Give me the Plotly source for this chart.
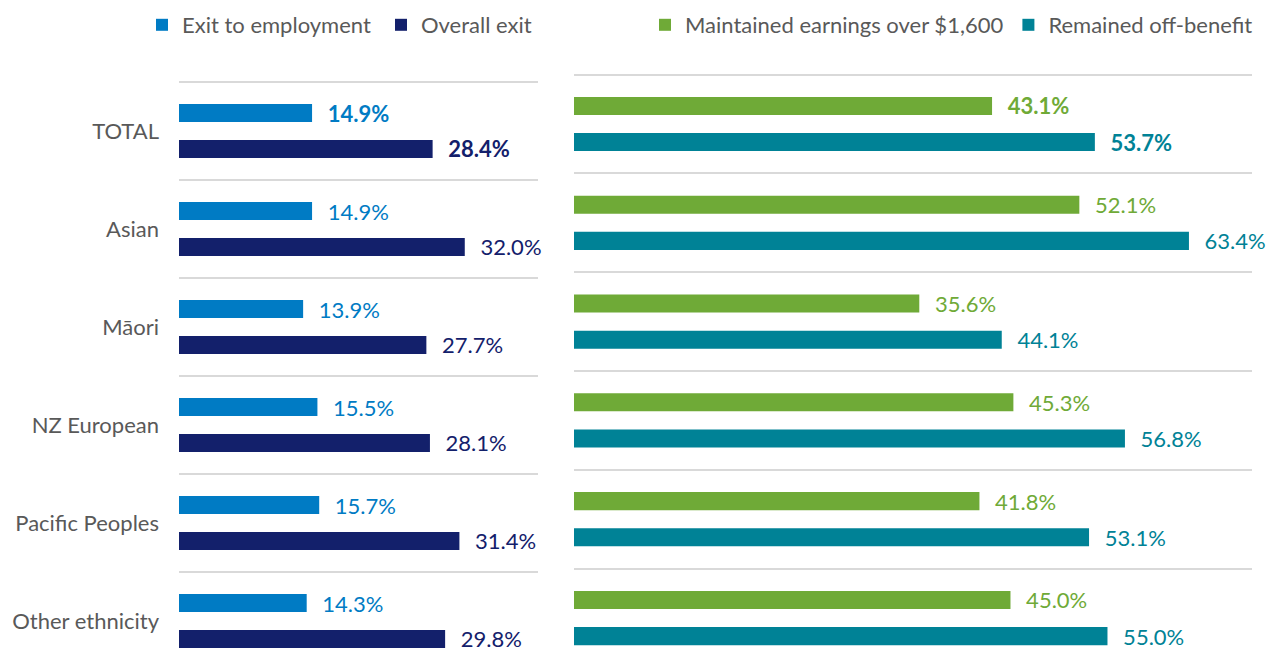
import plotly.graph_objects as go

categories = ["TOTAL", "Asian", "Māori", "NZ European", "Pacific Peoples", "Other ethnicity"]
exit_to_employment = [14.9, 14.9, 13.9, 15.5, 15.7, 14.3]
overall_exit = [28.4, 32.0, 27.7, 28.1, 31.4, 29.8]
maintained_earnings = [43.1, 52.1, 35.6, 45.3, 41.8, 45.0]
remained_off_benefit = [53.7, 63.4, 44.1, 56.8, 53.1, 55.0]

C_EMP = "#007BC4"
C_EXIT = "#13206B"
C_EARN = "#6FAA37"
C_OFF = "#008296"
GRAY = "#595959"
FONT = "Lato"
FS = 22
NB = "\u00a0\u00a0\u200a"


def labels(vals):
    out = []
    for i, v in enumerate(vals):
        s = f"{v:.1f}%"
        out.append(NB + (f"<b>{s}</b>" if i == 0 else s))
    return out


def bar(vals, name, color, xa, ya, leg):
    return go.Bar(
        y=categories, x=vals, name=name, orientation="h",
        marker=dict(color=color, line=dict(width=0)),
        text=labels(vals), textposition="outside", constraintext="none",
        cliponaxis=False, textfont=dict(color=color, size=FS, family=FONT),
        xaxis=xa, yaxis=ya, legend=leg, hoverinfo="x+y",
    )


fig = go.Figure()
fig.add_trace(bar(exit_to_employment, "Exit to employment", C_EMP, "x", "y", "legend"))
fig.add_trace(bar(overall_exit, "Overall exit", C_EXIT, "x", "y", "legend"))
fig.add_trace(bar(maintained_earnings, "Maintained earnings over $1,600", C_EARN, "x2", "y2", "legend2"))
fig.add_trace(bar(remained_off_benefit, "Remained off-benefit", C_OFF, "x2", "y2", "legend2"))

W, H = 1273, 661
grid = dict(showgrid=True, gridcolor="#D9D9D9", gridwidth=2, tickson="boundaries",
            ticks="", showline=False, zeroline=False, type="category")

fig.update_layout(
    width=W, height=H,
    margin=dict(l=0, r=0, t=0, b=0),
    paper_bgcolor="white", plot_bgcolor="white",
    font=dict(family=FONT, size=FS, color=GRAY),
    barmode="group", bargap=0.268, bargroupgap=0.5,
    xaxis=dict(domain=[179 / W, 538 / W], range=[0, 40.2], visible=False),
    xaxis2=dict(domain=[574 / W, 1252 / W], range=[0, 69.9], visible=False),
    yaxis=dict(grid, domain=[0, 1 - 78 / H], range=[5.408, -0.541],
               ticklabelstandoff=19, tickfont=dict(size=FS, color=GRAY, family=FONT)),
    yaxis2=dict(grid, domain=[0, 1 - 70.6 / H], range=[5.435, -0.5405],
                showticklabels=False, anchor="x2"),
    legend=dict(orientation="h", x=142 / W, xanchor="left", y=1 - 25 / H, yanchor="middle",
                font=dict(size=FS, color=GRAY, family=FONT), traceorder="normal",
                bgcolor="rgba(0,0,0,0)", entrywidth=194, entrywidthmode="pixels"),
    legend2=dict(orientation="h", x=645 / W, xanchor="left", y=1 - 25 / H, yanchor="middle",
                 font=dict(size=FS, color=GRAY, family=FONT), traceorder="normal",
                 bgcolor="rgba(0,0,0,0)"),
    showlegend=True,
)

fig.write_html("out.html", post_script="document.body.style.margin='0px';",
               config={"displayModeBar": False})
